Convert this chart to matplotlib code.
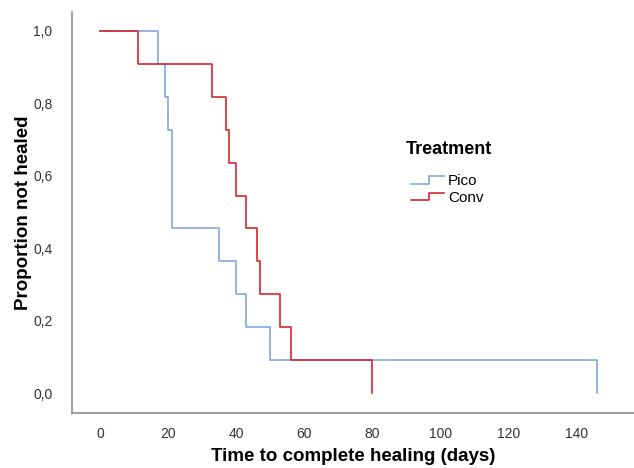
import matplotlib
matplotlib.use("Agg")
import matplotlib.pyplot as plt
from matplotlib.lines import Line2D
from matplotlib.legend_handler import HandlerBase

# --- datos ---
pico_t = [0, 17, 19, 20, 21, 35, 40, 43, 50, 146]
pico_s = [1.0, 0.909, 0.818, 0.727, 0.455, 0.364, 0.273, 0.182, 0.091, 0.0]
conv_t = [0, 11, 33, 37, 38, 40, 43, 46, 47, 53, 56, 80]
conv_s = [1.0, 0.909, 0.818, 0.727, 0.636, 0.545, 0.455, 0.364, 0.273, 0.182, 0.091, 0.0]
x_ticks = [0, 20, 40, 60, 80, 100, 120, 140]
y_ticks = [0.0, 0.2, 0.4, 0.6, 0.8, 1.0]
y_ticklabels = ["0,0", "0,2", "0,4", "0,6", "0,8", "1,0"]

BLUE = "#80a8de"
RED = "#d7262e"
GREY = "#8c8c8c"

plt.rcParams["font.family"] = ["Liberation Sans", "DejaVu Sans"]


class StepHandler(HandlerBase):
    # simbolo de la leyenda en forma de escalon
    def create_artists(self, legend, orig_handle, xdescent, ydescent,
                       width, height, fontsize, trans):
        x0, x1 = -xdescent, -xdescent + width
        xm = x0 + width * 0.55
        ylo, yhi = -ydescent + height * 0.15, -ydescent + height * 0.85
        ln = Line2D([x0, xm, xm, x1], [ylo, ylo, yhi, yhi],
                    color=orig_handle.get_color(), lw=orig_handle.get_linewidth(),
                    transform=trans)
        return [ln]


fig = plt.figure(figsize=(6.34, 4.68), dpi=100)
ax = fig.add_axes([0.1136, 0.1175, 0.8864, 0.8565])

l1, = ax.step(pico_t, pico_s, where="post", color=BLUE, lw=1.2, label="Pico")
l2, = ax.step(conv_t, conv_s, where="post", color=RED, lw=1.2, label="Conv")

ax.set_xlim(-8.3, 157)
ax.set_ylim(-0.055, 1.052)
ax.set_xticks(x_ticks)
ax.set_yticks(y_ticks)
ax.set_yticklabels(y_ticklabels)
ax.tick_params(length=0, labelsize=10, colors="#333333")
ax.tick_params(axis="x", pad=10)
ax.tick_params(axis="y", pad=14)

for s in ["top", "right"]:
    ax.spines[s].set_visible(False)
for s in ["left", "bottom"]:
    ax.spines[s].set_color(GREY)
    ax.spines[s].set_linewidth(1.2)

ax.set_xlabel("Time to complete healing (days)", fontsize=13.5, fontweight="bold", labelpad=5)
ax.set_ylabel("Proportion not healed", fontsize=13.5, fontweight="bold", labelpad=1)

# titulo de la leyenda aparte, para dejar mas hueco hasta las entradas
fig.text(0.708, 0.681, "Treatment", fontsize=13, fontweight="bold",
         ha="center", va="center")
leg = ax.legend(handles=[l1, l2], loc="upper left",
                bbox_to_anchor=(0.585, 0.622), frameon=False, fontsize=11,
                handler_map={Line2D: StepHandler()}, handlelength=2.1,
                handletextpad=0.3, labelspacing=0.15, borderpad=0.2)

fig.savefig("out.png", dpi=100)
